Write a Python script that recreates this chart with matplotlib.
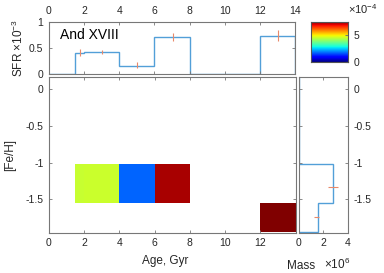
import numpy as np
import matplotlib
matplotlib.use("Agg")
import matplotlib.pyplot as plt
from matplotlib.colors import Normalize
from matplotlib.patches import Rectangle

plt.rcParams['font.family'] = ['Liberation Sans', 'DejaVu Sans']
plt.rcParams['mathtext.fontset'] = 'custom'
plt.rcParams['mathtext.rm'] = 'Liberation Sans'
plt.rcParams['mathtext.it'] = 'Liberation Sans'

# ---- data ----
age_edges = [0, 1.5, 2, 4, 6, 8, 10, 12, 14]
sfr = [0, 0.415, 0.42, 0.167, 0.705, 0, 0, 0.737]          # x 1e-3
sfr_err_x = [1.75, 3.0, 5.0, 7.05, 13.05]
sfr_err_y = [0.42, 0.42, 0.18, 0.705, 0.735]
sfr_err = [0.07, 0.04, 0.065, 0.08, 0.1]

# population cells: (age_lo, age_hi, feh_lo, feh_hi, sfr value x1e-3)
cell_age_lo = [1.5, 2, 4, 6, 12]
cell_age_hi = [2, 4, 6, 8, 14]
cell_feh_lo = [-1.55, -1.55, -1.55, -1.55, -1.95]
cell_feh_hi = [-1.02, -1.02, -1.02, -1.02, -1.55]
cell_sfr = [0.435, 0.44, 0.166, 0.71, 0.737]

feh_edges = [-1.95, -1.55, -1.02, 0.17]
mass = [1.52, 2.82, 0.0]                                      # x 1e6
mass_err_y = [-1.745, -1.336]
mass_err_x = [1.45, 2.8]
mass_err = [0.2, 0.38]

xticks_age = [0, 2, 4, 6, 8, 10, 12, 14]
feh_ticks = [0, -0.5, -1, -1.5]
feh_ticklabels = ['0', '-0.5', '-1', '-1.5']

W, H = 384, 273
fig = plt.figure(figsize=(W / 100, H / 100), dpi=100)

def ax_px(x0, y0, x1, y1):
    return fig.add_axes([x0 / W, 1 - y1 / H, (x1 - x0) / W, (y1 - y0) / H])

spine_c = '#777777'
text_c = '#262626'
line_c = '#529fd8'
err_c = '#e8896a'
fs = 7.5

def style(ax):
    for s in ax.spines.values():
        s.set_color(spine_c)
        s.set_linewidth(0.8)
    ax.tick_params(direction='in', length=2.5, width=0.6, color=spine_c,
                   labelsize=fs, labelcolor=text_c, top=True, right=True, pad=4)

vmax = max(sfr)
norm = Normalize(0, vmax)
cmap = plt.get_cmap('jet')

# ---- top SFR panel ----
axt = ax_px(49, 21.7, 295, 74.5)
style(axt)
axt.stairs(sfr, age_edges, color=line_c, lw=1.0, baseline=0)
axt.errorbar(sfr_err_x, sfr_err_y, yerr=sfr_err, fmt='none', ecolor=err_c, elinewidth=0.8, capsize=0)
axt.set_xlim(0, 14)
axt.set_ylim(0, 1)
axt.set_xticks(xticks_age)
axt.set_yticks([0, 0.5, 1])
axt.set_yticklabels(['0', '0.5', '1'])
axt.tick_params(labeltop=True, labelbottom=False)
axt.text(0.6, 0.88, 'And XVIII', fontsize=10, color='black', va='top', ha='left')
axt.set_ylabel(r'SFR $\times10^{-3}$', fontsize=8.5, color=text_c, labelpad=2)

# ---- main panel ----
axm = ax_px(49, 76.7, 295.5, 232.7)
style(axm)
for a0, a1, f0, f1, v in zip(cell_age_lo, cell_age_hi, cell_feh_lo, cell_feh_hi, cell_sfr):
    axm.add_patch(Rectangle((a0, f0), a1 - a0, f1 - f0, color=cmap(norm(v)), lw=0))
axm.set_xlim(0, 14)
axm.set_ylim(-1.955, 0.17)
axm.set_xticks(xticks_age)
axm.set_xticklabels(['0', '2', '4', '6', '8', '10', '12', ''])
axm.set_yticks(feh_ticks)
axm.set_yticklabels(feh_ticklabels)
axm.set_ylabel('[Fe/H]', fontsize=8.5, color=text_c, labelpad=7)
axm.set_xlabel('Age, Gyr', fontsize=8.5, color=text_c, labelpad=4)
axm.xaxis.set_label_coords(0.47, -0.14)

# ---- right mass panel ----
axr = ax_px(299, 76.7, 347.7, 232.7)
style(axr)
axr.stairs(mass, feh_edges, orientation='horizontal', color=line_c, lw=1.0, baseline=0)
axr.errorbar(mass_err_x, mass_err_y, xerr=mass_err, fmt='none', ecolor=err_c, elinewidth=0.8, capsize=0)
axr.set_xlim(0, 4)
axr.set_ylim(-1.955, 0.17)
axr.set_xticks([0, 2, 4])
axr.set_yticks(feh_ticks)
axr.set_yticklabels(feh_ticklabels)
axr.tick_params(labelleft=False, labelright=True)
fig.text(287 / W, 1 - 269 / H, 'Mass', fontsize=8.5, color=text_c, ha='left', va='baseline')
fig.text(324 / W, 1 - 269 / H, r'$\times10^{6}$', fontsize=8.5, color=text_c, ha='left', va='baseline')

# ---- colorbar ----
axc = ax_px(311, 21.7, 347.7, 62.3)
grad = np.linspace(0, vmax, 256).reshape(-1, 1)
axc.imshow(grad, aspect='auto', cmap=cmap, origin='lower', extent=[0, 1, 0, vmax], norm=norm)
for s in axc.spines.values():
    s.set_color('#555555')
    s.set_linewidth(0.8)
axc.set_xticks([])
axc.yaxis.tick_right()
axc.set_yticks([0, 0.5])
axc.set_yticklabels(['0', '5'])
axc.tick_params(direction='in', length=2, color=spine_c, labelsize=fs, labelcolor=text_c, pad=4)
fig.text(348 / W, 1 - 14 / H, r'$\times10^{-4}$', fontsize=8, color=text_c, ha='left', va='baseline')

fig.savefig('out.png', dpi=100)
